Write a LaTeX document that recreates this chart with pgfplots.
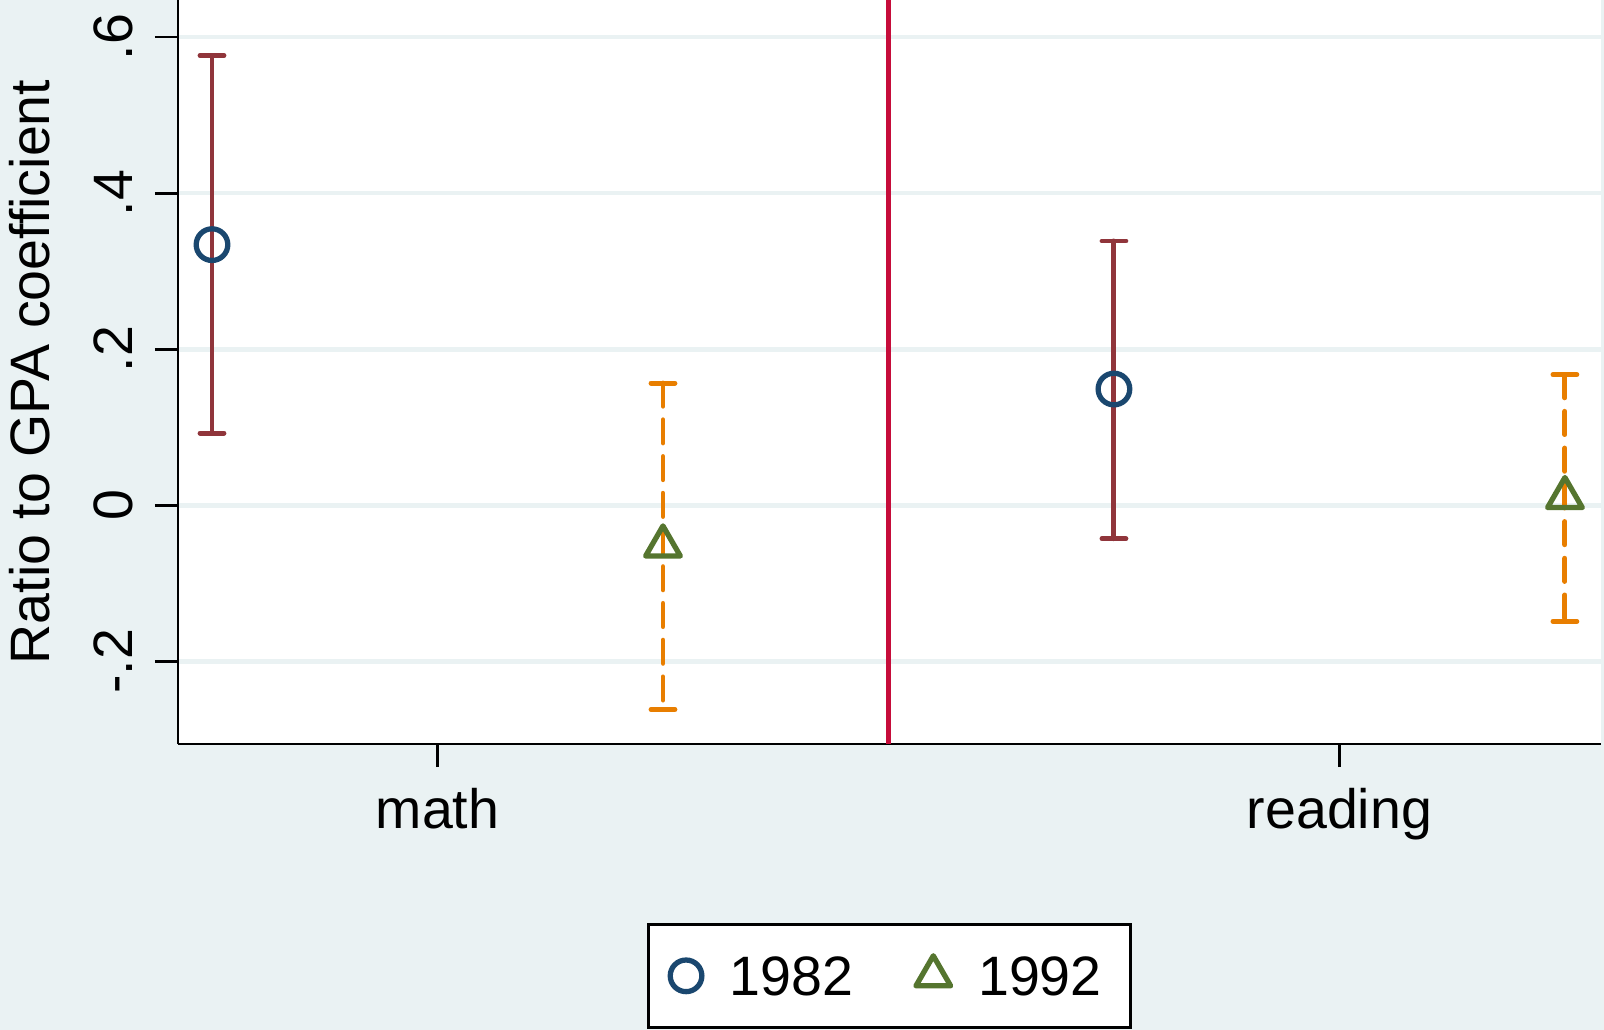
\documentclass[border=0pt]{standalone}
\usepackage{fontspec}
\setmainfont{Liberation Sans}
\usepackage{pgfplots}
\pgfplotsset{compat=1.18}
\definecolor{bgc}{RGB}{234,242,243}
\definecolor{snavy}{RGB}{26,71,111}
\definecolor{smaroon}{RGB}{144,53,59}
\definecolor{sgreen}{RGB}{85,117,47}
\definecolor{sorange}{RGB}{232,126,0}
\definecolor{scran}{RGB}{198,12,58}
\newcommand{\chfont}{\fontsize{15.8}{19}\selectfont}
\begin{document}
\begin{tikzpicture}
\useasboundingbox (0,0) rectangle (16.04,10.30);
\fill[bgc] (0,0) rectangle (16.04,10.30);
\begin{axis}[
  at={(1.78cm,2.86cm)}, anchor=south west,
  width=14.23cm, height=7.44cm, scale only axis,
  xmin=0.9246, xmax=4.08, ymin=-0.3057, ymax=0.6474,
  axis background/.style={fill=white},
  axis x line*=bottom, axis y line*=left,
  axis line style={-, line width=0.8pt, black},
  tick align=outside, major tick length=0.23cm,
  tick style={black, line width=0.8pt},
  xtick={1.5,3.5}, xticklabels={math,reading},
  ytick={-0.2,0,0.2,0.4,0.6}, yticklabels={-.2,0,.2,.4,.6},
  xticklabel style={font=\chfont, anchor=base, yshift=-0.61cm},
  yticklabel style={font=\chfont, xshift=-0.22cm, rotate=90, anchor=base},
  ymajorgrids, grid style={color=bgc, line width=1.3pt},
  ylabel={Ratio to GPA coefficient},
  every axis y label/.style={at={(axis description cs:-0.09,0.5)}, rotate=90, anchor=base, font=\chfont},
  clip=false,
  legend columns=2,
  legend cell align=left,
  legend image code/.code={\draw[#1] plot coordinates {(0cm,0cm)};},
  legend style={at={(axis description cs:0.5,-0.2406)}, anchor=north,
    draw=black, line width=0.8pt, fill=white, font=\chfont,
    inner xsep=0.215cm, inner ysep=0.25cm,
    nodes={inner sep=2pt, text depth=0pt},
    /tikz/every odd column/.append style={column sep=0.205cm},
    /tikz/every even column/.append style={column sep=0.56cm}},
]
% vertical separator
\addplot[forget plot, scran, line width=1.45pt] coordinates {(2.5,-0.3057) (2.5,0.6474)};
% point estimates
\addplot[forget plot, only marks, mark=o, mark size=4.5pt, snavy, mark options={line width=1.5pt}] coordinates {(1,0.334) (3,0.149)};
\addplot[forget plot, only marks, mark=triangle, mark size=5.7pt, sgreen, mark options={line width=1.5pt, line join=round}] coordinates {(2,-0.052) (4,0.010)};
% 1982 CIs
\addplot[forget plot, smaroon, line width=1.4pt, line cap=round, mark=-, mark size=3.4pt, mark options={solid}] coordinates {(1,0.5763) (1,0.0926)};
\addplot[forget plot, smaroon, line width=1.4pt, line cap=round, mark=-, mark size=3.4pt, mark options={solid}] coordinates {(3,0.3387) (3,-0.0427)};
% 1992 CIs
\addplot[forget plot, sorange, line width=1.4pt, line cap=round, dash pattern=on 6.6pt off 3.85pt, mark=-, mark size=3.4pt, mark options={solid}] coordinates {(2,0.1567) (2,-0.2614)};
\addplot[forget plot, sorange, line width=1.4pt, line cap=round, dash pattern=on 6.6pt off 3.85pt, mark=-, mark size=3.4pt, mark options={solid}] coordinates {(4,0.1675) (4,-0.1486)};
\addlegendimage{only marks, mark=o, mark size=4.5pt, snavy, mark options={line width=1.5pt}}
\addlegendentry{1982}
\addlegendimage{only marks, mark=triangle, mark size=5.7pt, sgreen, mark options={line width=1.5pt, line join=round}}
\addlegendentry{1992}
\end{axis}
\end{tikzpicture}
\end{document}
